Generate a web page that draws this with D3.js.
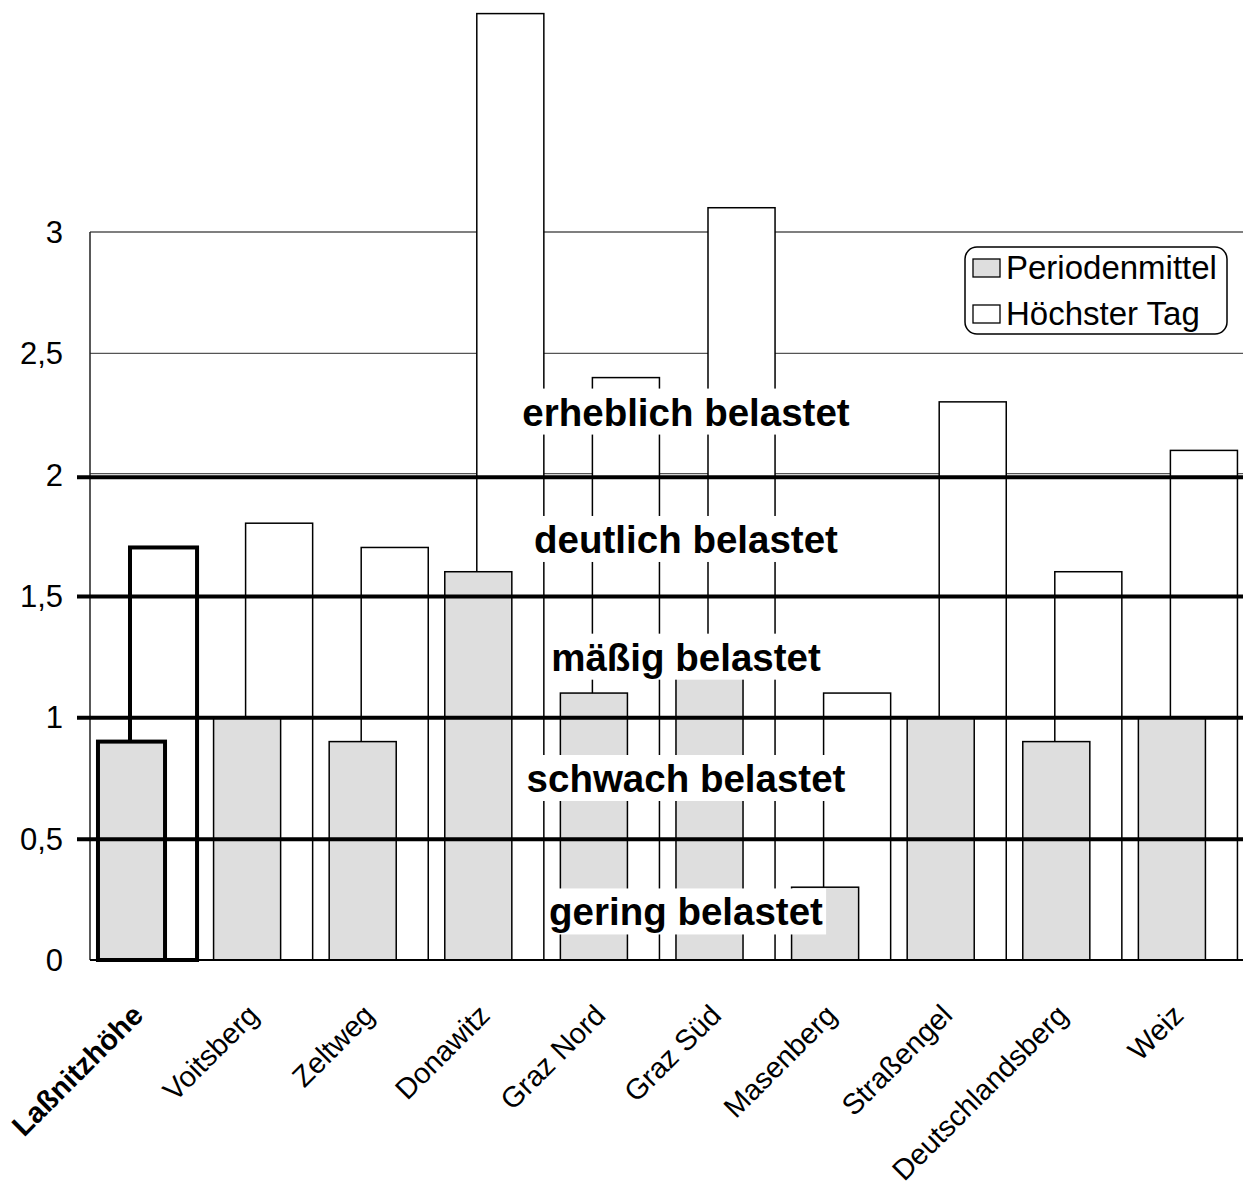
<!DOCTYPE html>
<html><head><meta charset="utf-8">
<script src="https://cdn.jsdelivr.net/npm/d3@7"></script>
<style>
body{margin:0;background:#fff}
svg{display:block}
text{font-family:Arial,"Liberation Sans",sans-serif;fill:#000}
</style>
</head><body>
<svg id="chart" width="1243" height="1186"></svg>
<script>
const categories = ["Laßnitzhöhe","Voitsberg","Zeltweg","Donawitz","Graz Nord","Graz Süd","Masenberg","Straßengel","Deutschlandsberg","Weiz"];
const periodenmittel = [0.9,1.0,0.9,1.6,1.1,1.2,0.3,1.0,0.9,1.0];
const hoechsterTag = [1.7,1.8,1.7,3.9,2.4,3.1,1.1,2.3,1.6,2.1];
const yTicks = [0,0.5,1,1.5,2,2.5,3];
const yTickLabels = ["0","0,5","1","1,5","2","2,5","3"];
const gridValues = [2,2.5,3];
const thresholds = [0.5,1,1.5,2];
const bandLabels = ["gering belastet","schwach belastet","mäßig belastet","deutlich belastet","erheblich belastet"];
const bandLabelLevels = [0.2,0.75,1.25,1.735,2.26];
const seriesNames = ["Periodenmittel","Höchster Tag"];
const highlight = "Laßnitzhöhe";

const svg = d3.select("#chart");
const W = 1243, H = 1186;
const left = 90, right = 1246, bottom = 960;

const x = d3.scaleBand().domain(categories).range([left, right]).padding(0);
const y = d3.scaleLinear().domain([0,3]).range([bottom, 232]);
const bw = x.bandwidth();
const grayOff = bw*0.069, whiteOff = bw*0.346, barW = bw*0.58;
const grayFill = "#dedede";

// thin gridlines
svg.append("g").selectAll("line").data(gridValues).join("line")
  .attr("x1", left).attr("x2", W)
  .attr("y1", d => y(d) - (d===2?1:0)).attr("y2", d => y(d) - (d===2?1:0))
  .attr("stroke", "#555").attr("stroke-width", 1.3);

// y axis line
svg.append("line").attr("x1", left).attr("x2", left).attr("y1", y(3)).attr("y2", bottom)
  .attr("stroke", "#222").attr("stroke-width", 1.5);

// y tick labels
svg.append("g").selectAll("text").data(yTicks).join("text")
  .attr("x", 63).attr("y", d => y(d) + 11)
  .attr("text-anchor", "end").attr("font-size", 31)
  .text((d,i) => yTickLabels[i]);

const data = categories.map((c,i) => ({c, p: periodenmittel[i], h: hoechsterTag[i]}));

// white bars (behind)
svg.append("g").selectAll("rect").data(data).join("rect")
  .attr("x", d => x(d.c) + whiteOff).attr("width", barW)
  .attr("y", d => y(d.h)).attr("height", d => bottom - y(d.h))
  .attr("fill", "#fff").attr("stroke", "#000")
  .attr("stroke-width", d => d.c===highlight ? 4 : 1.5);

// gray bars (front)
svg.append("g").selectAll("rect").data(data).join("rect")
  .attr("x", d => x(d.c) + grayOff).attr("width", barW)
  .attr("y", d => y(d.p)).attr("height", d => bottom - y(d.p))
  .attr("fill", grayFill).attr("stroke", "#000")
  .attr("stroke-width", d => d.c===highlight ? 4 : 1.5);

// baseline
svg.append("line").attr("x1", left).attr("x2", W).attr("y1", bottom).attr("y2", bottom)
  .attr("stroke", "#000").attr("stroke-width", 2);

// threshold lines
svg.append("g").selectAll("line").data(thresholds).join("line")
  .attr("x1", 77).attr("x2", W)
  .attr("y1", d => y(d) + (d===2?2.5:0.5)).attr("y2", d => y(d) + (d===2?2.5:0.5))
  .attr("stroke", "#000").attr("stroke-width", 4);

// band labels with white boxes
const bl = svg.append("g");
bandLabels.forEach((t,i) => {
  const cy = y(bandLabelLevels[i]);
  const g = bl.append("g");
  const r = g.append("rect").attr("fill", "#fff");
  const tx = g.append("text").attr("x", 686).attr("y", cy + 14)
    .attr("text-anchor", "middle").attr("font-size", 38.5).attr("font-weight", "bold").text(t);
  const bb = tx.node().getBBox();
  r.attr("x", bb.x - 3).attr("width", bb.width + 6).attr("y", cy - 23).attr("height", 46);
});

// x labels
svg.append("g").selectAll("text").data(categories).join("text")
  .attr("transform", d => `translate(${x(d) + bw/2 - 3},${bottom + 57}) rotate(-45)`)
  .attr("text-anchor", "end").attr("font-size", 29)
  .attr("font-weight", d => d===highlight ? "bold" : "normal")
  .text(d => d);

// legend
const lg = svg.append("g");
lg.append("rect").attr("x", 965).attr("y", 247).attr("width", 262).attr("height", 87)
  .attr("rx", 12).attr("fill", "#fff").attr("stroke", "#000").attr("stroke-width", 1.5);
const legFills = [grayFill, "#fff"];
seriesNames.forEach((s,i) => {
  const yy = 259 + i*46;
  lg.append("rect").attr("x", 973).attr("y", yy).attr("width", 27).attr("height", 18)
    .attr("fill", legFills[i]).attr("stroke", "#000").attr("stroke-width", 1.3);
  lg.append("text").attr("x", 1006).attr("y", yy + 20).attr("font-size", 33).text(s);
});
</script>
</body></html>
